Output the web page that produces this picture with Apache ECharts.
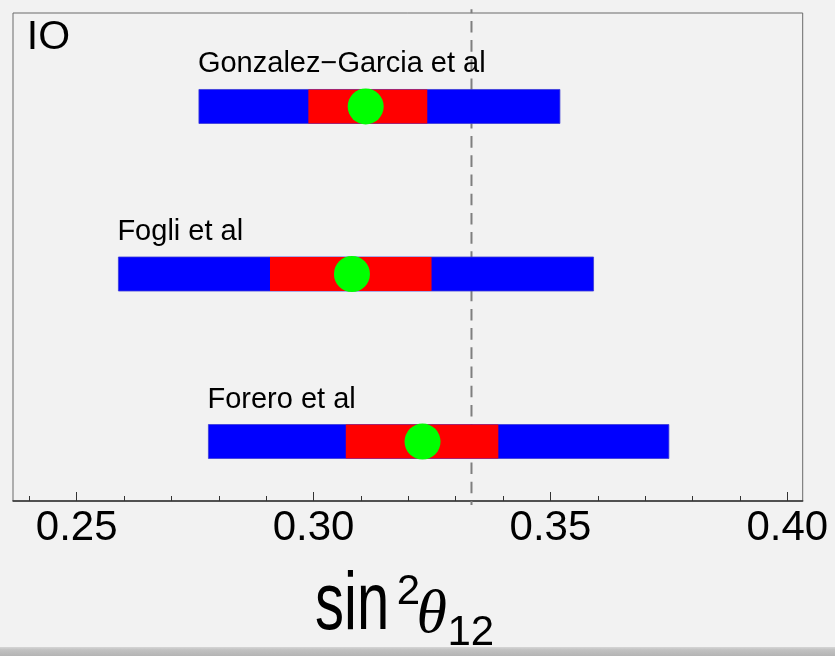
<!DOCTYPE html>
<html>
<head>
<meta charset="utf-8">
<script src="https://cdn.jsdelivr.net/npm/echarts@6/dist/echarts.min.js"></script>
<style>
  html, body { margin: 0; padding: 0; background: #f2f2f2; }
  #chart { width: 835px; height: 656px; }
</style>
</head>
<body>
<div id="chart"></div>
<script>
// Global-fit results for sin^2(theta_12), inverted ordering
const fitNames = ['Gonzalez\u2212Garcia et al', 'Fogli et al', 'Forero et al'];
const rowPos = [3, 2, 1];
const bestFit = [0.3110, 0.3081, 0.3230];
const oneSigmaLo = [0.2989, 0.2908, 0.3068];
const oneSigmaHi = [0.3240, 0.3249, 0.3390];
const threeSigmaLo = [0.2758, 0.2588, 0.2778];
const threeSigmaHi = [0.3520, 0.3591, 0.3750];

// Tri-bimaximal value 1/3
const refValue = [1 / 3];

// Axis ticks
const majorTicks = [0.25, 0.30, 0.35, 0.40];
const minorTicks = [0.24, 0.26, 0.27, 0.28, 0.29, 0.31, 0.32, 0.33, 0.34,
                    0.36, 0.37, 0.38, 0.39];

const X_MIN = 0.23655, X_MAX = 0.40325;
const Y_MIN = 0.645, Y_MAX = 3.558;
const BAR_H = 34;
const SANS = '"Liberation Sans", Arial, sans-serif';

const chart = echarts.init(document.getElementById('chart'));

const bandData = fitNames.map((n, i) => [
  threeSigmaLo[i], threeSigmaHi[i], oneSigmaLo[i], oneSigmaHi[i], rowPos[i], i
]);

chart.setOption({
  backgroundColor: '#f2f2f2',
  animation: false,
  grid: {
    left: 13, right: 32.3, top: 13, bottom: 155,
    show: true, borderColor: '#6a6a6a', borderWidth: 1,
    backgroundColor: 'transparent'
  },
  xAxis: [
    {
      type: 'value', min: X_MIN, max: X_MAX, position: 'bottom',
      axisLine: { show: true, onZero: false, lineStyle: { color: '#333', width: 1.5 } },
      axisTick: { show: true, inside: true, length: 9, customValues: majorTicks,
                  lineStyle: { color: '#333', width: 1 } },
      axisLabel: { customValues: majorTicks, formatter: v => v.toFixed(2),
                   fontSize: 42, color: '#000', fontFamily: SANS, margin: 6 },
      splitLine: { show: false }
    },
    {
      type: 'value', min: X_MIN, max: X_MAX, position: 'bottom',
      axisLine: { show: false, onZero: false },
      axisTick: { show: true, inside: true, length: 5, customValues: minorTicks,
                  lineStyle: { color: '#333', width: 1 } },
      axisLabel: { show: false },
      splitLine: { show: false }
    }
  ],
  yAxis: {
    type: 'value', min: Y_MIN, max: Y_MAX, show: false,
    splitLine: { show: false }
  },
  series: [
    {
      // dashed reference line, running slightly past the frame
      type: 'custom',
      z: 1,
      clip: false,
      data: refValue.map(v => [v]),
      renderItem(params, api) {
        const x = api.coord([api.value(0), Y_MIN])[0];
        const cs = params.coordSys;
        return {
          type: 'line',
          shape: { x1: x, y1: cs.y - 3.7, x2: x, y2: cs.y + cs.height + 4 },
          style: { stroke: '#7f7f7f', lineWidth: 2, lineDash: [11.6, 7.6], lineDashOffset: 7.6 }
        };
      }
    },
    {
      // 3-sigma (blue) and 1-sigma (red) ranges with the fit name above
      type: 'custom',
      z: 2,
      data: bandData,
      encode: { x: [0, 1, 2, 3], y: 4 },
      renderItem(params, api) {
        const y = api.value(4);
        const a = api.coord([api.value(0), y]);
        const b = api.coord([api.value(1), y]);
        const c = api.coord([api.value(2), y]);
        const d = api.coord([api.value(3), y]);
        const top = a[1] - BAR_H / 2;
        return {
          type: 'group',
          children: [
            { type: 'rect', shape: { x: a[0], y: top, width: b[0] - a[0], height: BAR_H },
              style: { fill: '#0000ff', stroke: '#3b3bd6', lineWidth: 0.8 } },
            { type: 'rect', shape: { x: c[0], y: top, width: d[0] - c[0], height: BAR_H },
              style: { fill: '#ff0000' } },
            { type: 'text', x: a[0] - 1, y: a[1] - 42,
              style: { text: fitNames[api.value(5)], fill: '#000', font: '29px ' + SANS,
                       align: 'left', verticalAlign: 'middle' } }
          ]
        };
      }
    },
    {
      type: 'scatter',
      z: 3,
      symbol: 'circle',
      symbolSize: 36,
      itemStyle: { color: '#00ff00', opacity: 1 },
      data: bestFit.map((v, i) => [v, rowPos[i]])
    }
  ],
  graphic: [
    { type: 'text', left: 26.8, top: 38.1 - 20.5, z: 10,
      style: { text: 'IO', fill: '#000', font: '41px ' + SANS } },
    {
      type: 'group', z: 10,
      children: [
        { type: 'text', x: 315, y: 635, scaleY: 1.4,
          style: { text: 'sin', fill: '#000', font: '58px ' + SANS, x: 0, y: -20.1,
                   align: 'left', verticalAlign: 'middle' } },
        { type: 'text', x: 396.7, y: 592.4,
          style: { text: '2', fill: '#000', font: '42px ' + SANS,
                   align: 'left', verticalAlign: 'middle' } },
        { type: 'text', x: 416.5, y: 616,
          style: { text: '\u03b8', fill: '#000', font: 'italic 62px "Liberation Serif", "Times New Roman", serif',
                   align: 'left', verticalAlign: 'middle' } },
        { type: 'text', x: 447.4, y: 633.4,
          style: { text: '12', fill: '#000', font: '42px ' + SANS,
                   align: 'left', verticalAlign: 'middle' } }
      ]
    },
    {
      type: 'rect', left: 0, top: 647, z: 20,
      shape: { width: 835, height: 9 },
      style: {
        fill: new echarts.graphic.LinearGradient(0, 0, 0, 1, [
          { offset: 0, color: '#d6d6d6' },
          { offset: 0.3, color: '#c2c2c2' },
          { offset: 1, color: '#b4b4b4' }
        ])
      }
    }
  ]
});
</script>
</body>
</html>
